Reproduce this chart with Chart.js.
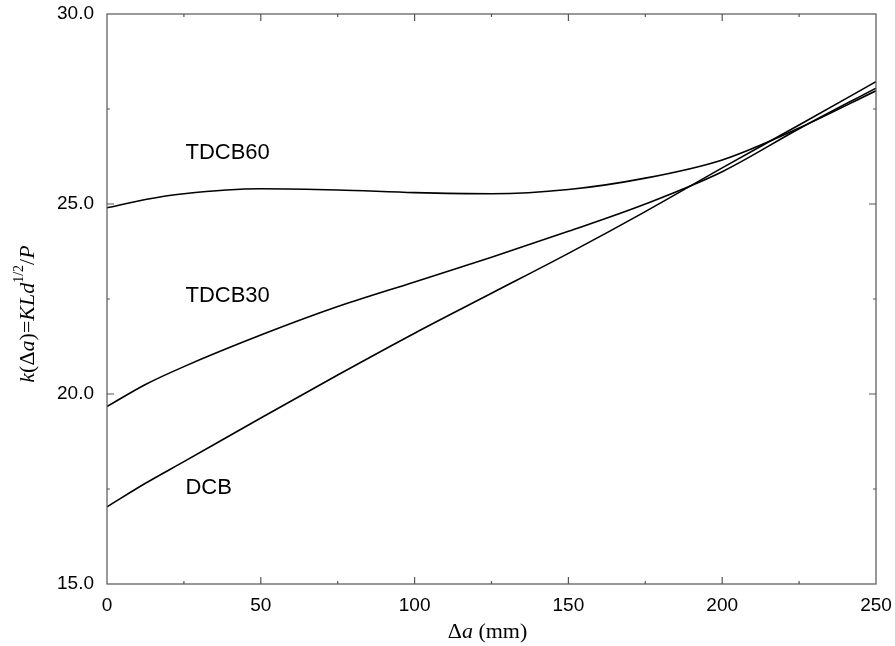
<!DOCTYPE html>
<html>
<head>
<meta charset="utf-8">
<script src="https://cdn.jsdelivr.net/npm/chart.js@4/dist/chart.umd.min.js"></script>
<style>
html,body{margin:0;padding:0;background:#fff;}
#wrap{width:895px;height:646px;position:relative;}
</style>
</head>
<body>
<div id="wrap"><canvas id="c" width="895" height="646"></canvas></div>
<script>
const xValues = [0, 12.5, 25, 50, 75, 100, 125, 150, 175, 200, 225, 250];
const dcb    = [17.03, 17.65, 18.22, 19.37, 20.5, 21.6, 22.65, 23.7, 24.8, 25.95, 27.08, 28.22];
const tdcb30 = [19.67, 20.25, 20.72, 21.55, 22.3, 22.95, 23.6, 24.28, 25.0, 25.85, 26.98, 28.05];
const tdcb60 = [24.9, 25.12, 25.27, 25.4, 25.37, 25.3, 25.27, 25.38, 25.68, 26.16, 27.0, 27.98];
const seriesNames = ['DCB', 'TDCB30', 'TDCB60'];
const labelAnchors = [ // [x, y] in data units for curve labels
  [25.5, 17.54],
  [25.5, 22.57],
  [25.5, 26.35]
];
const xTickValues = [0, 50, 100, 150, 200, 250];
const yTickValues = [15, 20, 25, 30];

function pts(ys){ return xValues.map((x,i)=>({x:x,y:ys[i]})); }

const axisColor = '#555';

const decorPlugin = {
  id: 'decor',
  afterDatasetsDraw(chart){
    const ctx = chart.ctx;
    const a = chart.chartArea;
    const xs = chart.scales.x, ys = chart.scales.y;
    ctx.save();
    ctx.strokeStyle = axisColor;
    ctx.lineWidth = 1.2;
    ctx.strokeRect(a.left, a.top, a.right - a.left, a.bottom - a.top);
    ctx.beginPath();
    for (let v = 0; v <= 250; v += 25) {
      const px = xs.getPixelForValue(v);
      const len = (v % 50 === 0) ? 7 : 3;
      if (v === 0 || v === 250) continue;
      ctx.moveTo(px, a.bottom); ctx.lineTo(px, a.bottom - len);
      ctx.moveTo(px, a.top); ctx.lineTo(px, a.top + len);
    }
    for (let v = 15; v <= 30; v += 2.5) {
      const py = ys.getPixelForValue(v);
      const len = (v % 5 === 0) ? 7 : 3;
      if (v === 15 || v === 30) continue;
      ctx.moveTo(a.left, py); ctx.lineTo(a.left + len, py);
      ctx.moveTo(a.right, py); ctx.lineTo(a.right - len, py);
    }
    ctx.stroke();
    ctx.fillStyle = '#000';
    ctx.font = '22px "Liberation Sans", Arial, sans-serif';
    ctx.textBaseline = 'middle';
    ctx.textAlign = 'left';
    seriesNames.forEach((n,i)=>{
      ctx.fillText(n, xs.getPixelForValue(labelAnchors[i][0]), ys.getPixelForValue(labelAnchors[i][1]));
    });
    const serif = '"Liberation Serif", "Times New Roman", serif';
    function drawSegs(segs, cx, cy){
      let total = 0;
      segs.forEach(s=>{ ctx.font = s.f; s.w = ctx.measureText(s.t).width; total += s.w; });
      let x = cx - total/2;
      segs.forEach(s=>{ ctx.font = s.f; ctx.fillText(s.t, x, cy + (s.dy||0)); x += s.w; });
    }
    ctx.textAlign = 'left';
    ctx.textBaseline = 'middle';
    drawSegs([
      {t:'\u0394', f:'22px '+serif},
      {t:'a', f:'italic 22px '+serif},
      {t:' (mm)', f:'22px '+serif}
    ], (a.left + a.right)/2 - 4, 632);
    ctx.save();
    ctx.translate(28, 314);
    ctx.rotate(-Math.PI/2);
    drawSegs([
      {t:'k', f:'italic 22px '+serif},
      {t:'(\u0394', f:'22px '+serif},
      {t:'a', f:'italic 22px '+serif},
      {t:')=', f:'22px '+serif},
      {t:'KLd', f:'italic 22px '+serif},
      {t:'1/2', f:'14px '+serif, dy:-9},
      {t:'/', f:'22px '+serif},
      {t:'P', f:'italic 22px '+serif}
    ], 0, 0);
    ctx.restore();
    ctx.restore();
  }
};

const ds = (name, ys) => ({
  label: name,
  data: pts(ys),
  borderColor: '#000',
  borderWidth: 1.6,
  pointRadius: 0,
  fill: false,
  cubicInterpolationMode: 'monotone'
});

function zeroPad(s){ s.paddingTop = 0; s.paddingBottom = 0; s.paddingLeft = 0; s.paddingRight = 0; }

new Chart(document.getElementById('c'), {
  type: 'line',
  data: { datasets: [ds(seriesNames[0], dcb), ds(seriesNames[1], tdcb30), ds(seriesNames[2], tdcb60)] },
  options: {
    responsive: false,
    animation: false,
    devicePixelRatio: 1,
    layout: { padding: { top: 14, right: 19, left: 0, bottom: 0 } },
    plugins: { legend: { display: false }, tooltip: { enabled: false } },
    scales: {
      x: {
        type: 'linear', min: 0, max: 250,
        grid: { display: false, drawTicks: false },
        border: { display: false },
        afterBuildTicks: s => { s.ticks = xTickValues.map(v=>({value:v})); },
        afterFit: s => { s.height = 62; zeroPad(s); },
        ticks: { color: '#000', padding: 10, maxRotation: 0, font: { family: '"Liberation Sans", Arial, sans-serif', size: 19 }, callback: v => String(v) }
      },
      y: {
        type: 'linear', min: 15, max: 30,
        grid: { display: false, drawTicks: false },
        border: { display: false },
        afterBuildTicks: s => { s.ticks = yTickValues.map(v=>({value:v})); },
        afterFit: s => { s.width = 107; zeroPad(s); },
        ticks: { color: '#000', padding: 13, font: { family: '"Liberation Sans", Arial, sans-serif', size: 19 }, callback: v => Number(v).toFixed(1) }
      }
    }
  },
  plugins: [decorPlugin]
});
</script>
</body>
</html>
